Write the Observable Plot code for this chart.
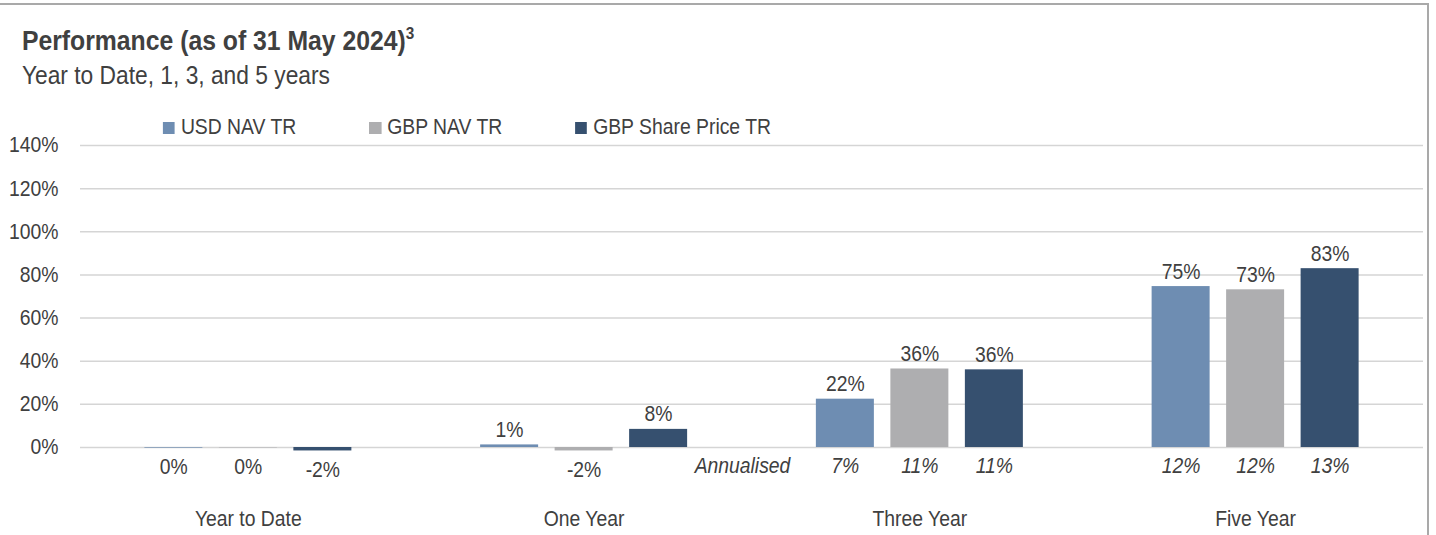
<!DOCTYPE html>
<html>
<head>
<meta charset="utf-8">
<script src="https://cdn.jsdelivr.net/npm/d3@7"></script>
<script src="https://cdn.jsdelivr.net/npm/@observablehq/plot@0.6"></script>
<style>
  html, body { margin: 0; padding: 0; background: #fff; }
  body { width: 1436px; height: 535px; position: relative; overflow: hidden;
         font-family: "Liberation Sans", Arial, sans-serif; color: #404040; }
  #frame { position: absolute; left: -4px; top: 3px; width: 1433px; height: 600px;
           border-top: 2px solid #a9a9a9; border-right: 2px solid #a9a9a9; box-sizing: border-box; }
  #header { position: absolute; left: 0; top: 0; width: 1595px; height: 140px;
            transform: scaleX(0.9); transform-origin: 0 0; }
  #title { position: absolute; left: 24.4px; top: 26.5px; font-size: 27.5px; line-height: 27.5px; font-weight: bold; white-space: nowrap; }
  #title sup { font-size: 17px; vertical-align: 11px; line-height: 0; }
  #subtitle { position: absolute; left: 24.4px; top: 62.6px; font-size: 25.3px; line-height: 25.3px; white-space: nowrap; }
  #legend { position: absolute; left: 181px; top: 117px; display: flex; gap: 81px; font-size: 21.5px; line-height: 21.5px; white-space: nowrap; }
  .item { display: flex; align-items: center; gap: 6.7px; }
  .sw { width: 13.3px; height: 12px; display: inline-block; }
  #chart { position: absolute; left: 0; top: 140px; width: 1600px; height: 395px; }
  #chart svg { max-width: none !important; width: 1595.56px !important; height: 395px !important;
               transform: scaleX(0.9); transform-origin: 0 0; }
</style>
</head>
<body>
<div id="frame"></div>
<div id="header">
  <div id="title">Performance (as of 31 May 2024)<sup>3</sup></div>
  <div id="subtitle">Year to Date, 1, 3, and 5 years</div>
  <div id="legend"></div>
</div>
<div id="chart"></div>
<script>
// ---- data ----
const categories = ["Year to Date", "One Year", "Three Year", "Five Year"];
const seriesNames = ["USD NAV TR", "GBP NAV TR", "GBP Share Price TR"];
const seriesColors = ["#6e8db2", "#aeaeb0", "#36506f"];
const usdNavTR = [-0.3, 1.2, 22.4, 74.6];
const gbpNavTR = [-0.2, -1.6, 36.4, 73.1];
const gbpSharePriceTR = [-1.6, 8.4, 36.0, 82.9];
const usdNavAnnualised = [null, null, 7, 12];
const gbpNavAnnualised = [null, null, 11, 12];
const gbpShareAnnualised = [null, null, 11, 13];
const annualisedNote = "Annualised";
const yTicks = [0, 20, 40, 60, 80, 100, 120, 140];

// ---- table ----
const seriesValues = [usdNavTR, gbpNavTR, gbpSharePriceTR];
const seriesAnn = [usdNavAnnualised, gbpNavAnnualised, gbpShareAnnualised];
const rows = [];
categories.forEach((c, ci) => {
  seriesNames.forEach((s, si) => {
    rows.push({category: c, ci, series: s, si, value: seriesValues[si][ci], ann: seriesAnn[si][ci]});
  });
});

// the whole chart is drawn 1/0.9 wider and squeezed horizontally (condensed look)
const sx = 0.9;
const step = 74.5 / 335.75;
const half = 29 / 335.75;
const cx = d => d.ci + 0.5 + (d.si - 1) * step;
const pct = v => `${Math.round(v) === 0 ? 0 : Math.round(v)}%`;
const textColor = "#404040";
const fs = 21.5;

// legend
const legend = document.getElementById("legend");
seriesNames.forEach((s, i) => {
  const it = document.createElement("div");
  it.className = "item";
  it.innerHTML = `<span class="sw" style="background:${seriesColors[i]}"></span><span>${s}</span>`;
  legend.appendChild(it);
});

const plot = Plot.plot({
  width: 1436 / sx,
  height: 395,
  marginLeft: 80 / sx,
  marginRight: 13 / sx,
  marginTop: 5,
  marginBottom: 88,
  style: {fontFamily: '"Liberation Sans", Arial, sans-serif', fontSize: fs + "px", color: textColor, background: "transparent", overflow: "visible"},
  x: {type: "linear", domain: [0, categories.length]},
  y: {domain: [0, 140], label: null},
  color: {domain: seriesNames, range: seriesColors},
  marks: [
    Plot.ruleY(yTicks, {stroke: "#d5d5d5", strokeWidth: 1.5}),
    Plot.rectY(rows, {x1: d => cx(d) - half, x2: d => cx(d) + half, y1: 0, y2: "value", fill: "series"}),
    Plot.text(rows.filter(d => d.value > 0.5), {x: cx, y: "value", text: d => pct(d.value), lineAnchor: "bottom", dy: -8, fill: textColor, fontSize: fs}),
    Plot.text(rows.filter(d => d.value <= 0.5), {x: cx, y: d => Math.min(d.value, 0), text: d => pct(d.value), lineAnchor: "top", dy: 11, fill: textColor, fontSize: fs}),
    Plot.text(rows.filter(d => d.ann != null), {x: cx, y: 0, text: d => `${d.ann}%`, lineAnchor: "top", dy: 10, fill: textColor, fontSize: fs, fontStyle: "italic"}),
    Plot.text(rows.filter(d => d.ann != null && d.si === 0).slice(0, 1), {x: d => cx(d) - half, y: 0, text: () => annualisedNote, textAnchor: "end", lineAnchor: "top", dx: -26 / sx, dy: 10, fill: textColor, fontSize: fs, fontStyle: "italic"}),
    Plot.axisY({ticks: yTicks, tickFormat: d => `${d}%`, tickSize: 0, tickPadding: 22 / sx, fill: textColor, fontSize: fs, label: null}),
    Plot.axisX({ticks: categories.map((c, i) => i + 0.5), tickFormat: v => categories[Math.floor(v)], tickSize: 0, tickPadding: 63, fill: textColor, fontSize: fs, label: null})
  ]
});
document.getElementById("chart").appendChild(plot);
</script>
</body>
</html>
